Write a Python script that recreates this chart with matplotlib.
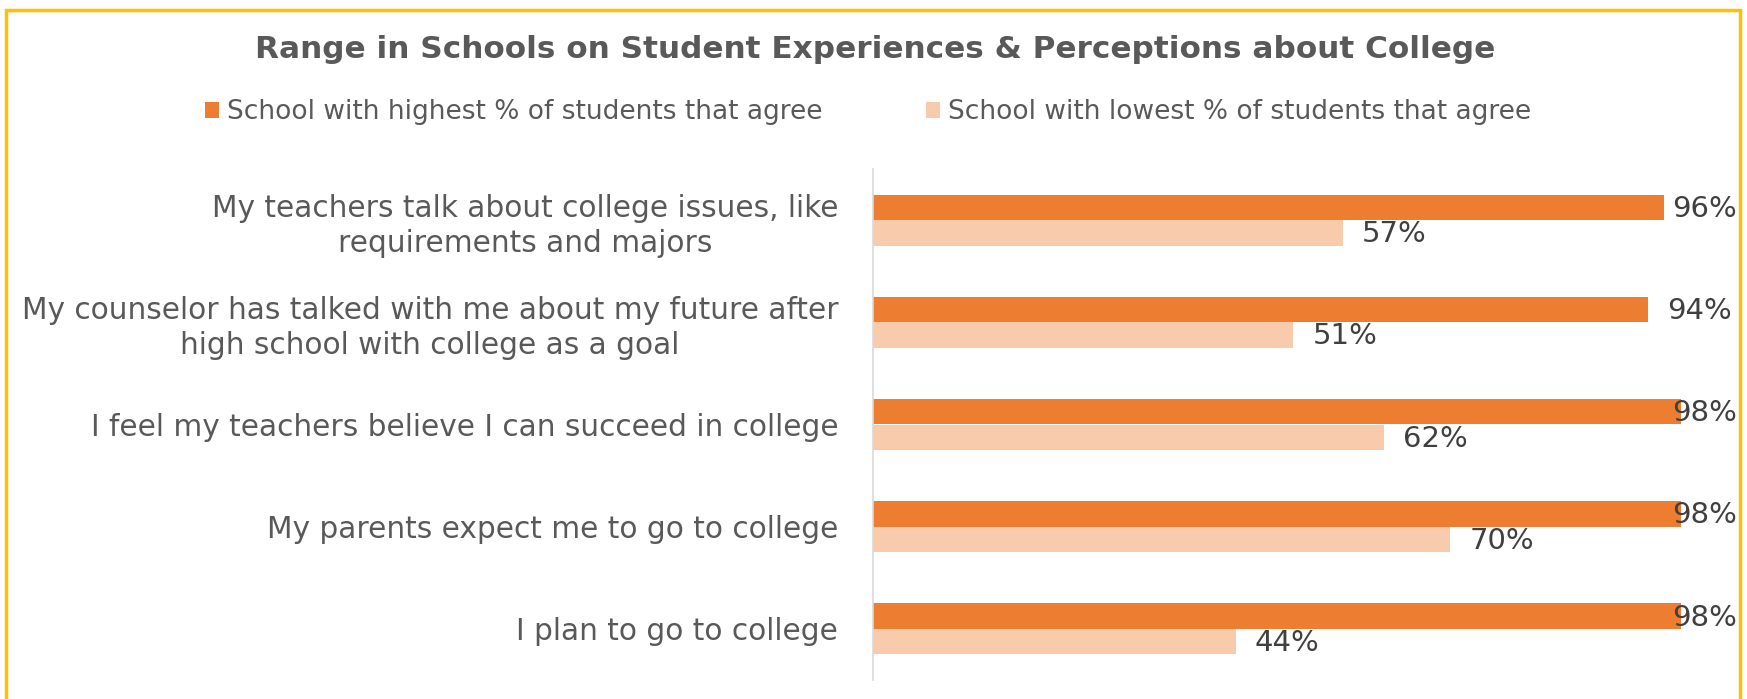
import matplotlib
matplotlib.use("Agg")
import matplotlib.pyplot as plt
from matplotlib.patches import Rectangle, Patch

categories = [
    "My teachers talk about college issues, like\nrequirements and majors",
    "My counselor has talked with me about my future after\nhigh school with college as a goal",
    "I feel my teachers believe I can succeed in college",
    "My parents expect me to go to college",
    "I plan to go to college",
]
highest = [96, 94, 98, 98, 98]
lowest = [57, 51, 62, 70, 44]
series_names = ["School with highest % of students that agree",
                "School with lowest % of students that agree"]
title = "Range in Schools on Student Experiences & Perceptions about College"

DARK = "#ED7D31"
LIGHT = "#F8CBAD"
TXT = "#595959"
LBL = "#404040"

plt.rcParams['font.family'] = ['DejaVu Sans']

W, H = 1747, 699
fig = plt.figure(figsize=(W / 100, H / 100), dpi=100)
ax = fig.add_axes([873 / W, 1 - 680 / H, (1697 - 873) / W, (680 - 169) / H])

y = list(range(len(categories)))
bh = 0.25
b1 = ax.barh([v - bh / 2 for v in y], highest, height=bh, color=DARK, label=series_names[0])
b2 = ax.barh([v + bh / 2 for v in y], lowest, height=bh, color=LIGHT, label=series_names[1])

ax.set_xlim(0, 100)
ax.set_ylim(len(categories) - 0.5, -0.5)
ax.set_yticks(y)
ax.set_yticklabels(categories, fontsize=21.3, color=TXT, linespacing=1.25, multialignment='center')
ax.tick_params(axis='y', length=0, pad=25)
ax.set_xticks([])
for s in ['top', 'right', 'bottom']:
    ax.spines[s].set_visible(False)
ax.spines['left'].set_color('#D9D9D9')
ax.spines['left'].set_linewidth(1.2)

OFF = 14
texts = []
for bars, vals in ((b1, highest), (b2, lowest)):
    for rect, v in zip(bars, vals):
        t = ax.annotate(f"{v}%", xy=(rect.get_width(), rect.get_y() + rect.get_height() / 2),
                        xytext=(OFF, -1), textcoords='offset points', ha='left', va='center',
                        fontsize=21, color=LBL, annotation_clip=False)
        texts.append(t)

fig.text(875 / W, 1 - 50 / H, title, ha='center', va='center', fontsize=22.4,
         fontweight='bold', color=TXT)

handles = [Patch(facecolor=DARK), Patch(facecolor=LIGHT)]
fig.legend(handles, series_names, loc='center', bbox_to_anchor=(868 / W, 1 - 112 / H),
           ncol=2, frameon=False, fontsize=19, labelcolor=TXT,
           handlelength=0.55, handleheight=0.55, handletextpad=0.3, columnspacing=3.9)

# keep data labels inside the chart frame
fig.canvas.draw()
r = fig.canvas.get_renderer()
limit = 1737
for t in texts:
    bb = t.get_window_extent(r)
    if bb.x1 > limit:
        dx = (bb.x1 - limit) * 72 / fig.dpi
        t.set_position((OFF - dx, -1))

fig.patches.append(Rectangle((6 / W, -0.05), (1740 - 6) / W, 1.05 - 10 / H,
                             transform=fig.transFigure, fill=False,
                             edgecolor="#FFC000", linewidth=2.5))

fig.savefig("out.png", dpi=100)
